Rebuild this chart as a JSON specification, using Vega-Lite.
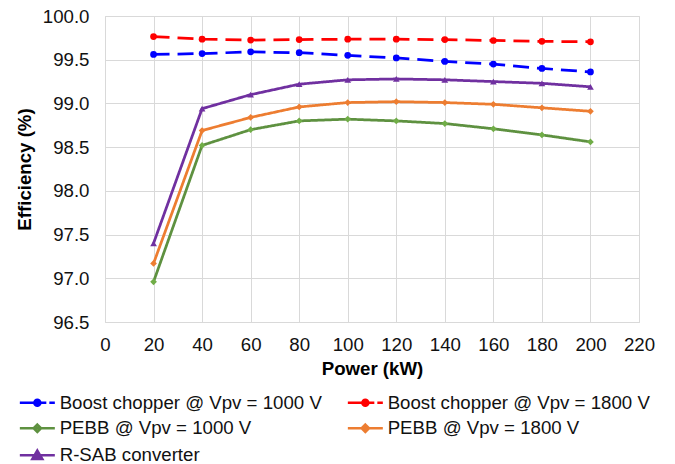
{
  "$schema": "https://vega.github.io/schema/vega-lite/v6.json",
  "width": 534,
  "height": 306,
  "autosize": "none",
  "padding": {"left": 105, "top": 16, "right": 36, "bottom": 142},
  "background": "white",
  "config": {
    "font": "Liberation Sans",
    "view": {"stroke": "#d9d9d9", "strokeWidth": 1}
  },
  "data": {
    "values": [
      {"series": "Boost chopper @ Vpv = 1000 V", "power": 20, "eff": 99.56},
      {"series": "Boost chopper @ Vpv = 1000 V", "power": 40, "eff": 99.57},
      {"series": "Boost chopper @ Vpv = 1000 V", "power": 60, "eff": 99.59},
      {"series": "Boost chopper @ Vpv = 1000 V", "power": 80, "eff": 99.58},
      {"series": "Boost chopper @ Vpv = 1000 V", "power": 100, "eff": 99.55},
      {"series": "Boost chopper @ Vpv = 1000 V", "power": 120, "eff": 99.52},
      {"series": "Boost chopper @ Vpv = 1000 V", "power": 140, "eff": 99.48},
      {"series": "Boost chopper @ Vpv = 1000 V", "power": 160, "eff": 99.45},
      {"series": "Boost chopper @ Vpv = 1000 V", "power": 180, "eff": 99.40},
      {"series": "Boost chopper @ Vpv = 1000 V", "power": 200, "eff": 99.36},
      {"series": "Boost chopper @ Vpv = 1800 V", "power": 20, "eff": 99.765},
      {"series": "Boost chopper @ Vpv = 1800 V", "power": 40, "eff": 99.735},
      {"series": "Boost chopper @ Vpv = 1800 V", "power": 60, "eff": 99.725},
      {"series": "Boost chopper @ Vpv = 1800 V", "power": 80, "eff": 99.73},
      {"series": "Boost chopper @ Vpv = 1800 V", "power": 100, "eff": 99.735},
      {"series": "Boost chopper @ Vpv = 1800 V", "power": 120, "eff": 99.735},
      {"series": "Boost chopper @ Vpv = 1800 V", "power": 140, "eff": 99.73},
      {"series": "Boost chopper @ Vpv = 1800 V", "power": 160, "eff": 99.72},
      {"series": "Boost chopper @ Vpv = 1800 V", "power": 180, "eff": 99.71},
      {"series": "Boost chopper @ Vpv = 1800 V", "power": 200, "eff": 99.705},
      {"series": "PEBB @ Vpv = 1000 V", "power": 20, "eff": 96.96},
      {"series": "PEBB @ Vpv = 1000 V", "power": 40, "eff": 98.52},
      {"series": "PEBB @ Vpv = 1000 V", "power": 60, "eff": 98.70},
      {"series": "PEBB @ Vpv = 1000 V", "power": 80, "eff": 98.80},
      {"series": "PEBB @ Vpv = 1000 V", "power": 100, "eff": 98.82},
      {"series": "PEBB @ Vpv = 1000 V", "power": 120, "eff": 98.80},
      {"series": "PEBB @ Vpv = 1000 V", "power": 140, "eff": 98.77},
      {"series": "PEBB @ Vpv = 1000 V", "power": 160, "eff": 98.71},
      {"series": "PEBB @ Vpv = 1000 V", "power": 180, "eff": 98.64},
      {"series": "PEBB @ Vpv = 1000 V", "power": 200, "eff": 98.56},
      {"series": "PEBB @ Vpv = 1800 V", "power": 20, "eff": 97.17},
      {"series": "PEBB @ Vpv = 1800 V", "power": 40, "eff": 98.69},
      {"series": "PEBB @ Vpv = 1800 V", "power": 60, "eff": 98.84},
      {"series": "PEBB @ Vpv = 1800 V", "power": 80, "eff": 98.96},
      {"series": "PEBB @ Vpv = 1800 V", "power": 100, "eff": 99.01},
      {"series": "PEBB @ Vpv = 1800 V", "power": 120, "eff": 99.02},
      {"series": "PEBB @ Vpv = 1800 V", "power": 140, "eff": 99.01},
      {"series": "PEBB @ Vpv = 1800 V", "power": 160, "eff": 98.99},
      {"series": "PEBB @ Vpv = 1800 V", "power": 180, "eff": 98.95},
      {"series": "PEBB @ Vpv = 1800 V", "power": 200, "eff": 98.91},
      {"series": "R-SAB converter", "power": 20, "eff": 97.40},
      {"series": "R-SAB converter", "power": 40, "eff": 98.94},
      {"series": "R-SAB converter", "power": 60, "eff": 99.10},
      {"series": "R-SAB converter", "power": 80, "eff": 99.22},
      {"series": "R-SAB converter", "power": 100, "eff": 99.27},
      {"series": "R-SAB converter", "power": 120, "eff": 99.28},
      {"series": "R-SAB converter", "power": 140, "eff": 99.27},
      {"series": "R-SAB converter", "power": 160, "eff": 99.25},
      {"series": "R-SAB converter", "power": 180, "eff": 99.23},
      {"series": "R-SAB converter", "power": 200, "eff": 99.19}
    ]
  },
  "encoding": {
    "x": {
      "field": "power", "type": "quantitative",
      "scale": {"domain": [0, 220], "nice": false, "zero": false},
      "axis": {
        "values": [0, 20, 40, 60, 80, 100, 120, 140, 160, 180, 200, 220],
        "title": "Power (kW)", "titleFontSize": 18.67, "titleFontWeight": "bold", "titleColor": "#000",
        "titlePadding": 6,
        "labelFontSize": 18.67, "labelColor": "#111", "labelPadding": 13, "labelFlush": false, "labelOverlap": false,
        "ticks": false, "tickSize": 0, "domain": false,
        "grid": true, "gridColor": "#d9d9d9", "gridWidth": 1
      }
    },
    "y": {
      "field": "eff", "type": "quantitative",
      "scale": {"domain": [96.5, 100], "nice": false, "zero": false},
      "axis": {
        "values": [96.5, 97, 97.5, 98, 98.5, 99, 99.5, 100],
        "format": ".1f",
        "title": "Efficiency (%)", "titleFontSize": 18.67, "titleFontWeight": "bold", "titleColor": "#000",
        "titlePadding": 8,
        "labelFontSize": 18.67, "labelColor": "#111", "labelPadding": 16, "labelFlush": false, "labelOverlap": false,
        "ticks": false, "tickSize": 0, "domain": false,
        "grid": true, "gridColor": "#d9d9d9", "gridWidth": 1
      }
    }
  },
  "layer": [
    {
      "mark": {"type": "line", "strokeWidth": 2.75},
      "encoding": {
        "color": {
          "field": "series", "type": "nominal",
          "scale": {
            "domain": ["Boost chopper @ Vpv = 1000 V", "Boost chopper @ Vpv = 1800 V", "PEBB @ Vpv = 1000 V", "PEBB @ Vpv = 1800 V", "R-SAB converter"],
            "range": ["#0000FF", "#FF0000", "#5E9140", "#ED7D31", "#7030A0"]
          },
          "legend": null
        },
        "strokeDash": {
          "field": "series", "type": "nominal",
          "scale": {
            "domain": ["Boost chopper @ Vpv = 1000 V", "Boost chopper @ Vpv = 1800 V", "PEBB @ Vpv = 1000 V", "PEBB @ Vpv = 1800 V", "R-SAB converter"],
            "range": [[16, 8], [16, 8], [1, 0], [1, 0], [1, 0]]
          },
          "legend": null
        }
      }
    },
    {
      "mark": {"type": "point", "filled": true, "opacity": 1},
      "encoding": {
        "fill": {
          "field": "series", "type": "nominal",
          "scale": {
            "domain": ["Boost chopper @ Vpv = 1000 V", "Boost chopper @ Vpv = 1800 V", "PEBB @ Vpv = 1000 V", "PEBB @ Vpv = 1800 V", "R-SAB converter"],
            "range": ["#0000FF", "#FF0000", "#70AD47", "#ED7D31", "#7030A0"]
          },
          "legend": null
        },
        "shape": {
          "field": "series", "type": "nominal",
          "scale": {
            "domain": ["Boost chopper @ Vpv = 1000 V", "Boost chopper @ Vpv = 1800 V", "PEBB @ Vpv = 1000 V", "PEBB @ Vpv = 1800 V", "R-SAB converter"],
            "range": ["circle", "circle", "diamond", "diamond", "triangle-up"]
          },
          "legend": null
        },
        "size": {
          "field": "series", "type": "nominal",
          "scale": {
            "domain": ["Boost chopper @ Vpv = 1000 V", "Boost chopper @ Vpv = 1800 V", "PEBB @ Vpv = 1000 V", "PEBB @ Vpv = 1800 V", "R-SAB converter"],
            "range": [45, 45, 75, 75, 80]
          },
          "legend": null
        }
      }
    },
    {
      "mark": {"type": "point", "filled": true, "opacity": 0, "strokeWidth": 2.5},
      "encoding": {
        "fill": {
          "field": "series", "type": "nominal",
          "scale": {
            "domain": ["Boost chopper @ Vpv = 1000 V", "Boost chopper @ Vpv = 1800 V", "PEBB @ Vpv = 1000 V", "PEBB @ Vpv = 1800 V", "R-SAB converter"],
            "range": ["#0000FF", "#FF0000", "#70AD47", "#ED7D31", "#7030A0"]
          },
          "legend": {
            "orient": "none", "legendX": -77, "legendY": 377,
            "direction": "horizontal",
            "columns": 2, "columnPadding": 20, "rowPadding": 6,
            "title": null, "padding": 0,
            "labelFontSize": 18.67, "labelColor": "#111", "labelOffset": 13, "labelLimit": 400,
            "symbolSize": 100, "symbolStrokeWidth": 2.5, "symbolOpacity": 1
          }
        },
        "stroke": {
          "field": "series", "type": "nominal",
          "scale": {
            "domain": ["Boost chopper @ Vpv = 1000 V", "Boost chopper @ Vpv = 1800 V", "PEBB @ Vpv = 1000 V", "PEBB @ Vpv = 1800 V", "R-SAB converter"],
            "range": ["#0000FF", "#FF0000", "#5E9140", "#ED7D31", "#7030A0"]
          },
          "legend": {
            "orient": "none", "legendX": -77, "legendY": 377,
            "direction": "horizontal",
            "columns": 2, "columnPadding": 20, "rowPadding": 6,
            "title": null, "padding": 0,
            "labelFontSize": 18.67, "labelColor": "#111", "labelOffset": 13, "labelLimit": 400,
            "symbolSize": 100, "symbolStrokeWidth": 2.5, "symbolOpacity": 1
          }
        },
        "shape": {
          "field": "series", "type": "nominal",
          "scale": {
            "domain": ["Boost chopper @ Vpv = 1000 V", "Boost chopper @ Vpv = 1800 V", "PEBB @ Vpv = 1000 V", "PEBB @ Vpv = 1800 V", "R-SAB converter"],
            "range": [
              "M-3.5,0H1.8M2.4,0H3.5M-0.6,0A0.6,0.6 0 1,0 0.6,0A0.6,0.6 0 1,0 -0.6,0Z",
              "M-3.5,0H1.8M2.4,0H3.5M-0.6,0A0.6,0.6 0 1,0 0.6,0A0.6,0.6 0 1,0 -0.6,0Z",
              "M-3.5,0H3.5M0,-0.75L0.75,0L0,0.75L-0.75,0Z",
              "M-3.5,0H3.5M0,-0.75L0.75,0L0,0.75L-0.75,0Z",
              "M-3.5,0H3.5M0,-0.95L1,0.75L-1,0.75Z"
            ]
          },
          "legend": {
            "orient": "none", "legendX": -77, "legendY": 377,
            "direction": "horizontal",
            "columns": 2, "columnPadding": 20, "rowPadding": 6,
            "title": null, "padding": 0,
            "labelFontSize": 18.67, "labelColor": "#111", "labelOffset": 13, "labelLimit": 400,
            "symbolSize": 100, "symbolStrokeWidth": 2.5, "symbolOpacity": 1
          }
        }
      }
    }
  ],
  "resolve": {
    "scale": {"color": "independent", "fill": "independent", "shape": "independent", "stroke": "independent", "size": "independent", "strokeDash": "independent"}
  }
}
